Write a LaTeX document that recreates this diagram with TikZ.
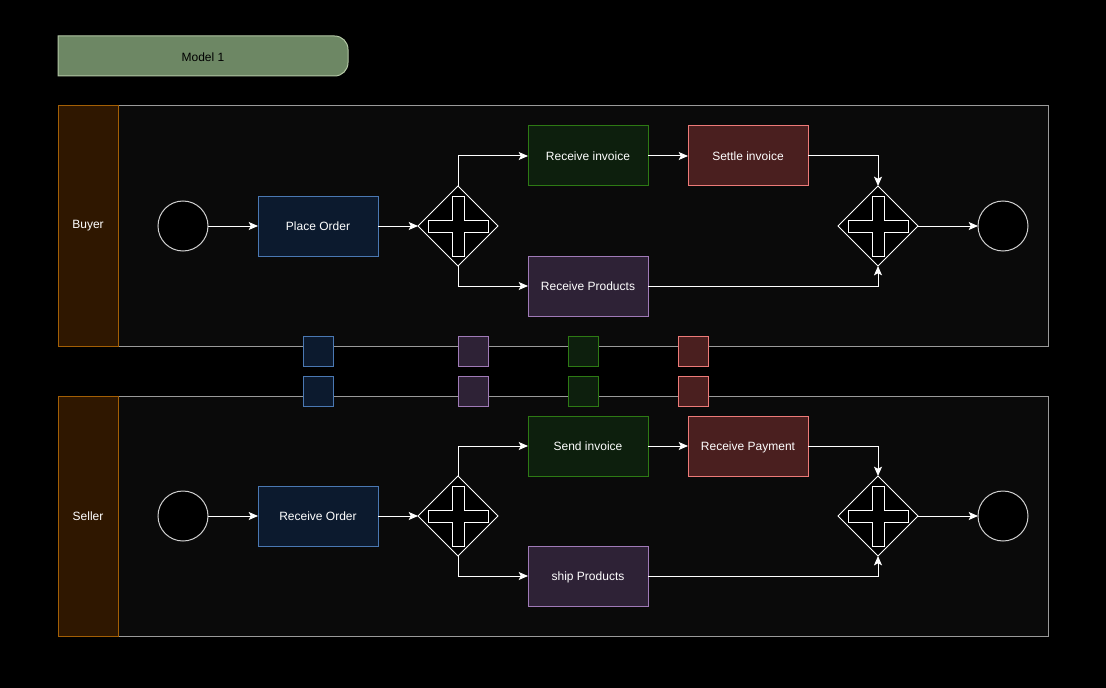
\documentclass[tikz,border=0pt]{standalone}
\usepackage{fontspec}
\setmainfont{Liberation Sans}
\usetikzlibrary{shapes.geometric,arrows.meta}

\definecolor{poolfill}{HTML}{0A0A0A}
\definecolor{poolline}{HTML}{9A9A9A}
\definecolor{lanefill}{HTML}{2F1700}
\definecolor{laneline}{HTML}{A35F05}
\definecolor{bluefill}{HTML}{0C1A2E}
\definecolor{blueline}{HTML}{4A78B3}
\definecolor{greenfill}{HTML}{0D1F0D}
\definecolor{greenline}{HTML}{2D7A14}
\definecolor{redfill}{HTML}{4A1F1F}
\definecolor{redline}{HTML}{EE7A78}
\definecolor{purplefill}{HTML}{2E2236}
\definecolor{purpleline}{HTML}{A07AB8}
\definecolor{titlefill}{HTML}{6D8764}
\definecolor{titleline}{HTML}{B3C7A5}
\definecolor{eventline}{HTML}{D0D0D0}

\tikzset{
  every node/.style={font=\fontsize{9pt}{11pt}\selectfont, text=white},
  task/.style={rectangle, draw, line width=0.75pt, minimum width=90pt,
    minimum height=45pt, inner sep=0pt, outer sep=0pt,
    text depth=0pt, yshift=0pt},
  bluetask/.style={task, fill=bluefill, draw=blueline},
  greentask/.style={task, fill=greenfill, draw=greenline},
  redtask/.style={task, fill=redfill, draw=redline},
  purpletask/.style={task, fill=purplefill, draw=purpleline},
  msg/.style={rectangle, line width=0.75pt, minimum size=22.5pt,
    inner sep=0pt, outer sep=0pt},
  event/.style={circle, draw=eventline, fill=black, line width=0.75pt,
    minimum size=37.5pt, inner sep=0pt, outer sep=0pt},
  gateway/.style={diamond, draw=white, fill=black, line width=0.75pt,
    minimum width=60pt, minimum height=60pt, inner sep=0pt, outer sep=0pt},
  crossmark/.style={draw=white, line width=0.75pt},
  flow/.style={draw=white, line width=0.75pt,
    -{Stealth[length=7pt, width=6pt, inset=1.5pt]}},
  lane/.style={rectangle, draw=laneline, fill=lanefill, line width=0.75pt,
    minimum width=45pt, minimum height=180pt, inner sep=0pt},
  poolbody/.style={draw=poolline, fill=poolfill, line width=0.75pt},
}

% plus sign inside a parallel gateway
\newcommand{\gwcross}[1]{%
  \draw[crossmark] (#1.center) ++(-30,-6) -- ++(24,0) -- ++(0,-24) -- ++(12,0)
    -- ++(0,24) -- ++(24,0) -- ++(0,12) -- ++(-24,0) -- ++(0,24) -- ++(-12,0)
    -- ++(0,-24) -- ++(-24,0) -- cycle;}

\begin{document}
\begin{tikzpicture}[x=0.75pt, y=-0.75pt]
  \fill[black] (0,0) rectangle (1106,688);
  \useasboundingbox (0,0) rectangle (1106,688);

  % title tab
  \draw[fill=titlefill, draw=titleline, line width=0.75pt]
    (58,36) [rounded corners=10pt] -- (348,36) -- (348,76) [sharp corners] -- (58,76) -- cycle;
  \node[text=black] (title) at (203,57) {Model 1};

  % pools
  \draw[poolbody] (118,106) rectangle (1048,346);
  \draw[poolbody] (118,396) rectangle (1048,636);
  \node[lane] (buyer) at (88,226) {Buyer};
  \node[lane] (seller) at (88,516) {Seller};

  % message markers between the pools
  \node[msg, fill=bluefill, draw=blueline] (m1a) at (318,351) {};
  \node[msg, fill=purplefill, draw=purpleline] (m2a) at (473,351) {};
  \node[msg, fill=greenfill, draw=greenline] (m3a) at (583,351) {};
  \node[msg, fill=redfill, draw=redline] (m4a) at (693,351) {};
  \node[msg, fill=bluefill, draw=blueline] (m1b) at (318,391) {};
  \node[msg, fill=purplefill, draw=purpleline] (m2b) at (473,391) {};
  \node[msg, fill=greenfill, draw=greenline] (m3b) at (583,391) {};
  \node[msg, fill=redfill, draw=redline] (m4b) at (693,391) {};

  % buyer process
  \node[event] (bs) at (183,226) {};
  \node[bluetask] (bplace) at (318,226) {Place Order};
  \node[gateway] (bg1) at (458,226) {};
  \gwcross{bg1}
  \node[greentask] (brecinv) at (588,156) {Receive invoice};
  \node[redtask] (bsettle) at (748,156) {Settle invoice};
  \node[purpletask] (brecprod) at (588,286) {Receive Products};
  \node[gateway] (bg2) at (878,226) {};
  \gwcross{bg2}
  \node[event] (be) at (1003,226) {};

  \draw[flow] (bs) -- (bplace);
  \draw[flow] (bplace) -- (bg1);
  \draw[flow] (bg1.north) |- (brecinv);
  \draw[flow] (bg1.south) |- (brecprod);
  \draw[flow] (brecinv) -- (bsettle);
  \draw[flow] (bsettle) -| (bg2.north);
  \draw[flow] (brecprod) -| (bg2.south);
  \draw[flow] (bg2) -- (be);

  % seller process
  \node[event] (ss) at (183,516) {};
  \node[bluetask] (sorder) at (318,516) {Receive Order};
  \node[gateway] (sg1) at (458,516) {};
  \gwcross{sg1}
  \node[greentask] (ssendinv) at (588,446) {Send invoice};
  \node[redtask] (spay) at (748,446) {Receive Payment};
  \node[purpletask] (sship) at (588,576) {ship Products};
  \node[gateway] (sg2) at (878,516) {};
  \gwcross{sg2}
  \node[event] (se) at (1003,516) {};

  \draw[flow] (ss) -- (sorder);
  \draw[flow] (sorder) -- (sg1);
  \draw[flow] (sg1.north) |- (ssendinv);
  \draw[flow] (sg1.south) |- (sship);
  \draw[flow] (ssendinv) -- (spay);
  \draw[flow] (spay) -| (sg2.north);
  \draw[flow] (sship) -| (sg2.south);
  \draw[flow] (sg2) -- (se);
\end{tikzpicture}
\end{document}
